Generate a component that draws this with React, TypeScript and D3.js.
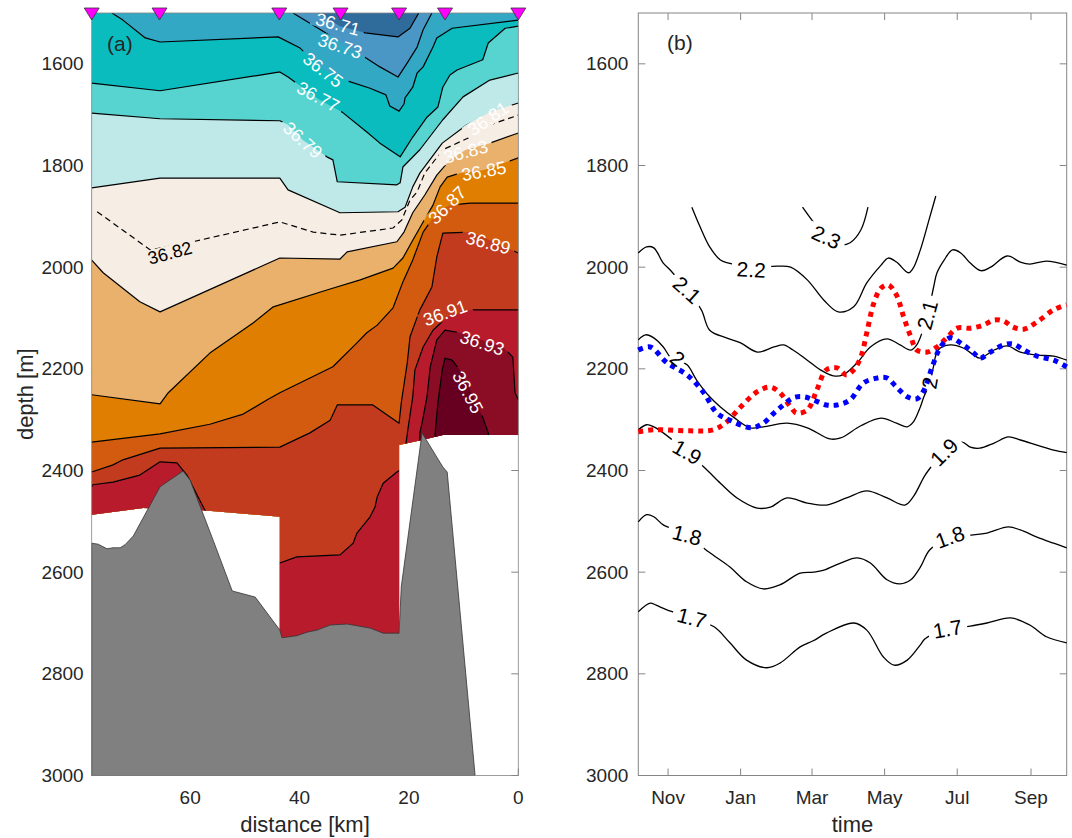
import React from 'react'
import * as d3 from 'd3'

const W = 1072
const H = 838

// shared axes
const depthTicks = [1600, 1800, 2000, 2200, 2400, 2600, 2800, 3000]
const distTicks = [60, 40, 20, 0]
const stations = [78, 65.6, 43.7, 32.5, 21.8, 13.4, 0]
const timeStart = '2015-10-07'
const timeEnd = '2016-10-01'

// panel (a): salinity contours, [distance km, depth m]
const sal3671 = [[36.6, 1500], [32.6, 1526], [28.0, 1539], [22.0, 1547], [19.8, 1530], [18.2, 1500]]
const sal3673 = [[41.2, 1500], [37.5, 1524], [33.1, 1553], [28.6, 1583], [25.3, 1606], [22.0, 1626], [20.3, 1598], [18.5, 1567], [17.4, 1533], [15.8, 1500]]
const sal3675 = [[74.3, 1500], [72.3, 1514], [68.2, 1549], [65.5, 1557], [43.9, 1547], [39.9, 1569], [35.7, 1612], [31.7, 1632], [27.1, 1648], [24.2, 1661], [23.5, 1683], [21.8, 1693], [20.9, 1679], [20.7, 1667], [19.3, 1646], [18.5, 1618], [17.4, 1606], [15.6, 1567], [14.9, 1549], [12.1, 1530], [0, 1514]]
const sal3677 = [[78, 1638], [65.5, 1653], [43.6, 1616], [42.1, 1626], [36.6, 1669], [32.2, 1695], [27.7, 1734], [25.3, 1756], [21.6, 1783], [19.3, 1744], [16.7, 1705], [14.7, 1685], [13.8, 1646], [12.5, 1622], [11.2, 1612], [6.5, 1592], [5.5, 1559], [2.4, 1530], [0, 1526]]
const sal3679 = [[78, 1697], [65.5, 1708], [43.6, 1712], [42.1, 1720], [39.4, 1750], [35.0, 1783], [33.9, 1789], [33.1, 1832], [22.2, 1838], [21.6, 1834], [21.1, 1803], [18.0, 1769], [13.8, 1710], [10.1, 1665], [5.2, 1632], [0, 1618]]
const sal3681 = [[78, 1844], [65.5, 1825], [43.6, 1825], [42.1, 1848], [32.6, 1893], [22.0, 1891], [20.7, 1882], [19.3, 1842], [18.0, 1815], [13.9, 1756], [9.4, 1720], [5.2, 1695], [0, 1677]]
const sal3682 = [[77.0, 1891], [67.3, 1966], [59.5, 1950], [43.6, 1911], [37.5, 1931], [32.6, 1937], [22.9, 1923], [21.3, 1907], [19.8, 1868], [18.5, 1852], [17.1, 1815], [13.8, 1769], [8.8, 1744], [5.2, 1720], [0, 1701]]
const sal3683 = [[78, 1986], [75.9, 2011], [69.2, 2068], [65.5, 2088], [43.6, 1982], [32.6, 1984], [31.3, 1970], [22.2, 1950], [20.9, 1931], [19.3, 1893], [17.1, 1858], [14.9, 1819], [12.5, 1789], [9.6, 1769], [5.2, 1756], [0, 1736]]
const sal3685 = [[78, 2251], [65.5, 2269], [64.0, 2247], [56.4, 2169], [48.5, 2110], [44.8, 2078], [35.0, 2045], [28.9, 2025], [22.9, 2002], [21.1, 1982], [19.3, 1947], [17.4, 1911], [15.6, 1878], [14.3, 1842], [13.0, 1823], [10.7, 1815], [6.3, 1809], [0, 1785]]
const sal3687 = [[78, 2344], [65.5, 2328], [56.4, 2309], [50.3, 2289], [45.9, 2261], [43.6, 2247], [33.9, 2196], [29.5, 2149], [27.7, 2129], [25.8, 2114], [22.9, 2080], [21.1, 2029], [19.3, 1986], [17.4, 1931], [15.6, 1903], [14.3, 1887], [12.5, 1878], [8.8, 1874], [0, 1874]]
const sal3689 = [[78, 2403], [74.1, 2389], [72.3, 2379], [65.5, 2356], [43.6, 2354], [38.1, 2326], [34.4, 2301], [33.1, 2271], [26.6, 2271], [21.8, 2307], [21.4, 2267], [20.3, 2188], [19.8, 2137], [18.0, 2084], [15.8, 2039], [14.9, 1980], [13.8, 1933], [8.8, 1931], [5.2, 1947], [0, 1972]]
const sal3691 = [[78, 2432], [77.8, 2428], [74.1, 2423], [69.2, 2409], [65.5, 2383], [62.4, 2385], [60.6, 2409], [57.3, 2478], [50.9, 2537], [43.6, 2582], [40.5, 2570], [32.6, 2566], [30.2, 2543], [29.5, 2523], [27.1, 2491], [26.2, 2472], [25.8, 2452], [24.7, 2425], [22.2, 2403], [21.6, 2399], [20.7, 2360], [20.2, 2320], [19.3, 2255], [18.9, 2202], [17.4, 2157], [15.6, 2124], [13.0, 2098], [8.8, 2084], [0, 2084]]
const sal3693 = [[18.0, 2360], [18.0, 2326], [17.6, 2307], [16.7, 2255], [16.1, 2196], [14.9, 2143], [13.4, 2124], [10.7, 2129], [2.8, 2157], [1.0, 2177], [0.6, 2247], [0, 2261]]
const sal3695 = [[15.2, 2360], [15.2, 2326], [14.7, 2267], [13.9, 2202], [13.4, 2179], [12.1, 2183], [10.7, 2202], [8.8, 2242], [6.5, 2295], [5.5, 2326], [5.2, 2360]]

// deepest measurement along the section, and the sea floor
const dataFloor = [[78, 2487], [68.6, 2474], [57.8, 2478], [43.6, 2491], [43.6, 2851], [21.8, 2851], [21.8, 2350], [17.6, 2340], [13.8, 2330], [0, 2330]]
const seaFloor = [[78, 2543], [76.8, 2545], [75.2, 2554], [74.1, 2552], [72.8, 2552], [71.9, 2546], [70.4, 2529], [65.5, 2432], [61.3, 2401], [60.0, 2419], [55.8, 2537], [52.3, 2637], [48.1, 2649], [43.6, 2714], [43.2, 2729], [40.5, 2725], [38.6, 2718], [36.8, 2714], [34.4, 2704], [31.3, 2702], [27.1, 2710], [24.7, 2720], [21.8, 2720], [21.4, 2629], [17.6, 2326], [13.8, 2393], [13.0, 2403], [7.9, 3000]]

const salLabels = [
  { text: '36.71', km: 33.0, depth: 1522, angle: 15 },
  { text: '36.73', km: 32.6, depth: 1565, angle: 18 },
  { text: '36.75', km: 35.7, depth: 1612, angle: 38 },
  { text: '36.77', km: 36.6, depth: 1665, angle: 28 },
  { text: '36.79', km: 39.4, depth: 1750, angle: 42 },
  { text: '36.81', km: 5.5, depth: 1708, angle: -35 },
  { text: '36.83', km: 9.6, depth: 1773, angle: -15 },
  { text: '36.85', km: 6.3, depth: 1811, angle: -10 },
  { text: '36.87', km: 13.0, depth: 1878, angle: -45 },
  { text: '36.89', km: 5.5, depth: 1952, angle: 15 },
  { text: '36.91', km: 13.4, depth: 2090, angle: -20 },
  { text: '36.93', km: 6.6, depth: 2149, angle: 18 },
  { text: '36.95', km: 9.2, depth: 2246, angle: 62 },
  { text: '36.82', km: 63.7, depth: 1972, angle: -15, dark: true },
]

// panel (b): isotherms and the two tracked depths, [date, depth m]
const iso23 = [['2016-02-22', 1882], ['2016-03-02', 1911], ['2016-03-13', 1943], ['2016-03-25', 1956], ['2016-04-02', 1952], ['2016-04-11', 1927], ['2016-04-17', 1882]]
const iso22 = [['2015-11-21', 1882], ['2015-11-28', 1921], ['2015-12-06', 1960], ['2015-12-15', 1986], ['2015-12-22', 1992], ['2016-01-10', 2000], ['2016-02-01', 1998], ['2016-02-12', 2000], ['2016-02-26', 2025], ['2016-03-11', 2065], ['2016-03-23', 2088], ['2016-04-05', 2078], ['2016-04-16', 2031], ['2016-04-28', 1996], ['2016-05-04', 1982], ['2016-05-11', 1990], ['2016-05-21', 2011], ['2016-05-25', 2002], ['2016-05-31', 1966], ['2016-06-08', 1901], ['2016-06-13', 1860]]
const iso21 = [['2015-10-07', 1972], ['2015-10-14', 1960], ['2015-10-20', 1962], ['2015-10-28', 1992], ['2015-11-03', 2006], ['2015-11-17', 2045], ['2015-11-29', 2084], ['2015-12-06', 2124], ['2015-12-20', 2139], ['2016-01-01', 2149], ['2016-01-15', 2167], ['2016-01-29', 2157], ['2016-02-06', 2153], ['2016-02-14', 2163], ['2016-02-26', 2183], ['2016-03-08', 2202], ['2016-03-19', 2214], ['2016-03-27', 2212], ['2016-04-08', 2188], ['2016-04-19', 2157], ['2016-05-03', 2141], ['2016-05-14', 2153], ['2016-05-23', 2163], ['2016-05-28', 2153], ['2016-06-06', 2094], ['2016-06-11', 2041], ['2016-06-14', 2011], ['2016-06-20', 1986], ['2016-06-27', 1966], ['2016-07-04', 1972], ['2016-07-12', 1992], ['2016-07-21', 2007], ['2016-07-29', 2000], ['2016-08-12', 1978], ['2016-08-23', 1990], ['2016-08-31', 1994], ['2016-09-14', 1988], ['2016-10-01', 1996]]
const iso20 = [['2015-10-07', 2143], ['2015-10-13', 2133], ['2015-10-20', 2139], ['2015-10-28', 2157], ['2015-11-03', 2177], ['2015-11-09', 2183], ['2015-11-17', 2192], ['2015-11-25', 2222], ['2015-12-06', 2255], ['2015-12-15', 2275], ['2015-12-26', 2295], ['2016-01-09', 2316], ['2016-01-20', 2314], ['2016-02-09', 2307], ['2016-02-26', 2316], ['2016-03-16', 2338], ['2016-03-25', 2336], ['2016-04-11', 2312], ['2016-04-28', 2297], ['2016-05-11', 2307], ['2016-05-20', 2314], ['2016-05-25', 2305], ['2016-05-31', 2275], ['2016-06-03', 2255], ['2016-06-08', 2228], ['2016-06-11', 2196], ['2016-06-15', 2163], ['2016-06-25', 2153], ['2016-07-06', 2159], ['2016-07-15', 2173], ['2016-07-20', 2179], ['2016-08-01', 2163], ['2016-08-12', 2155], ['2016-08-23', 2167], ['2016-09-06', 2173], ['2016-09-20', 2175], ['2016-10-01', 2183]]
const iso19 = [['2015-10-07', 2320], ['2015-10-14', 2310], ['2015-10-20', 2314], ['2015-10-28', 2326], ['2015-11-17', 2364], ['2015-12-02', 2395], ['2015-12-15', 2425], ['2015-12-29', 2454], ['2016-01-15', 2474], ['2016-01-26', 2472], ['2016-02-09', 2454], ['2016-02-26', 2464], ['2016-03-13', 2468], ['2016-03-30', 2454], ['2016-04-16', 2440], ['2016-05-03', 2454], ['2016-05-18', 2468], ['2016-05-25', 2452], ['2016-06-03', 2413], ['2016-06-07', 2399], ['2016-06-20', 2364], ['2016-07-05', 2344], ['2016-07-12', 2354], ['2016-07-20', 2356], ['2016-08-01', 2346], ['2016-08-13', 2334], ['2016-08-23', 2340], ['2016-09-06', 2350], ['2016-09-20', 2360], ['2016-10-01', 2365]]
const iso18 = [['2015-10-07', 2501], ['2015-10-14', 2487], ['2015-10-20', 2491], ['2015-10-28', 2507], ['2015-11-17', 2527], ['2015-12-05', 2560], ['2015-12-23', 2590], ['2016-01-06', 2619], ['2016-01-20', 2633], ['2016-02-03', 2625], ['2016-02-20', 2602], ['2016-03-02', 2600], ['2016-03-11', 2596], ['2016-03-25', 2582], ['2016-04-08', 2572], ['2016-04-19', 2582], ['2016-05-03', 2615], ['2016-05-14', 2623], ['2016-05-23', 2615], ['2016-05-31', 2590], ['2016-06-08', 2556], ['2016-06-25', 2531], ['2016-07-13', 2527], ['2016-07-26', 2523], ['2016-08-13', 2511], ['2016-08-23', 2517], ['2016-09-06', 2531], ['2016-09-20', 2543], ['2016-10-01', 2552]]
const iso17 = [['2015-10-07', 2678], ['2015-10-17', 2661], ['2015-10-22', 2665], ['2015-10-31', 2674], ['2015-11-21', 2690], ['2015-12-10', 2708], ['2015-12-23', 2739], ['2016-01-06', 2773], ['2016-01-23', 2788], ['2016-02-03', 2779], ['2016-02-20', 2747], ['2016-03-02', 2735], ['2016-03-13', 2720], ['2016-04-05', 2700], ['2016-04-16', 2714], ['2016-04-30', 2767], ['2016-05-09', 2783], ['2016-05-20', 2773], ['2016-05-31', 2743], ['2016-06-04', 2731], ['2016-06-23', 2712], ['2016-07-12', 2706], ['2016-07-26', 2700], ['2016-08-15', 2690], ['2016-08-31', 2704], ['2016-09-14', 2727], ['2016-10-01', 2739]]
const redDepth = [['2015-10-07', 2324], ['2015-10-20', 2320], ['2015-11-19', 2322], ['2015-12-09', 2320], ['2015-12-20', 2305], ['2016-01-01', 2275], ['2016-01-15', 2245], ['2016-01-26', 2236], ['2016-02-03', 2247], ['2016-02-12', 2275], ['2016-02-17', 2287], ['2016-02-26', 2281], ['2016-03-05', 2242], ['2016-03-13', 2202], ['2016-03-22', 2198], ['2016-03-30', 2212], ['2016-04-05', 2202], ['2016-04-11', 2177], ['2016-04-16', 2129], ['2016-04-22', 2070], ['2016-04-28', 2041], ['2016-05-04', 2035], ['2016-05-11', 2055], ['2016-05-17', 2098], ['2016-05-23', 2137], ['2016-05-28', 2163], ['2016-06-06', 2167], ['2016-06-14', 2157], ['2016-06-23', 2137], ['2016-07-01', 2120], ['2016-07-12', 2120], ['2016-07-23', 2114], ['2016-08-01', 2104], ['2016-08-09', 2106], ['2016-08-17', 2118], ['2016-08-26', 2122], ['2016-09-06', 2108], ['2016-09-20', 2084], ['2016-10-01', 2074]]
const blueDepth = [['2015-10-07', 2163], ['2015-10-17', 2157], ['2015-10-31', 2188], ['2015-11-17', 2212], ['2015-12-01', 2247], ['2015-12-12', 2287], ['2015-12-23', 2301], ['2016-01-10', 2316], ['2016-01-20', 2307], ['2016-01-29', 2287], ['2016-02-06', 2271], ['2016-02-14', 2257], ['2016-02-23', 2255], ['2016-03-02', 2261], ['2016-03-13', 2271], ['2016-03-22', 2271], ['2016-04-02', 2261], ['2016-04-13', 2228], ['2016-04-25', 2218], ['2016-05-03', 2218], ['2016-05-11', 2236], ['2016-05-20', 2255], ['2016-05-28', 2259], ['2016-06-03', 2242], ['2016-06-10', 2196], ['2016-06-17', 2157], ['2016-06-25', 2139], ['2016-07-06', 2153], ['2016-07-15', 2169], ['2016-07-20', 2179], ['2016-07-29', 2167], ['2016-08-09', 2153], ['2016-08-17', 2151], ['2016-08-26', 2163], ['2016-09-06', 2175], ['2016-09-20', 2183], ['2016-10-01', 2196]]

const tempLabels = [
  { text: '2.3', date: '2016-03-13', depth: 1941, angle: 25 },
  { text: '2.2', date: '2016-01-10', depth: 2005, angle: 3 },
  { text: '2.1', date: '2015-11-17', depth: 2045, angle: 42 },
  { text: '2.1', date: '2016-06-06', depth: 2094, angle: -75 },
  { text: '2', date: '2015-11-09', depth: 2180, angle: 40 },
  { text: '2', date: '2016-06-08', depth: 2228, angle: -80 },
  { text: '1.9', date: '2015-11-17', depth: 2364, angle: 30 },
  { text: '1.9', date: '2016-06-20', depth: 2364, angle: -45 },
  { text: '1.8', date: '2015-11-17', depth: 2527, angle: 15 },
  { text: '1.8', date: '2016-06-25', depth: 2531, angle: -20 },
  { text: '1.7', date: '2015-11-21', depth: 2690, angle: 15 },
  { text: '1.7', date: '2016-06-23', depth: 2712, angle: -10 },
]

const FONT = '"Liberation Sans", Arial, Helvetica, sans-serif'
const AXIS = '#858585'
const TEXT = '#262626'

const App = () => {
  const parse = d3.timeParse('%Y-%m-%d')
  const y = d3.scaleLinear().domain([1500, 3000]).range([13, 775.5])
  const xA = d3.scaleLinear().domain([78, 0]).range([91.7, 518.3])
  const xB = d3.scaleTime().domain([parse(timeStart), parse(timeEnd)]).range([638.3, 1066.7])

  const [dLeft, dRight] = xA.domain()
  const [dTop, dBottom] = y.domain()

  const lineA = d3.line().x(d => xA(d[0])).y(d => y(d[1]))
  const lineB = d3.line()
    .x(d => xB(parse(d[0])))
    .y(d => y(d[1]))
    .curve(d3.curveCatmullRom.alpha(0.5))

  const salContours = [
    { pts: sal3673, kind: 'closed', fill: '#4a97c6' },
    { pts: sal3671, kind: 'closed', fill: '#2f6c9c' },
    { pts: sal3675, kind: 'below', fill: '#0bbcbf' },
    { pts: sal3677, kind: 'below', fill: '#57d3d0' },
    { pts: sal3679, kind: 'below', fill: '#bfe9e9' },
    { pts: sal3681, kind: 'below', fill: '#f6ede4' },
    { pts: sal3683, kind: 'below', fill: '#e9b16c' },
    { pts: sal3685, kind: 'below', fill: '#df7e00' },
    { pts: sal3687, kind: 'below', fill: '#d25b10' },
    { pts: sal3689, kind: 'below', fill: '#c23b1e' },
    { pts: sal3691, kind: 'below', fill: '#b81c2c' },
    { pts: sal3693, kind: 'closed', fill: '#8b0d25', close: [[dRight, 2360]] },
    { pts: sal3695, kind: 'closed', fill: '#670020' },
  ]
  const fillPts = c => c.kind === 'below'
    ? [...c.pts, [dRight, dBottom], [dLeft, dBottom], [dLeft, dTop]]
    : [...c.pts, ...(c.close || [])]

  const isotherms = [iso23, iso22, iso21, iso20, iso19, iso18, iso17]
  const months = xB.ticks(d3.timeMonth.every(2))
  const fmtMonth = d3.timeFormat('%b')

  const fsA = 18
  const fsB = 21

  const gapRect = (cx, cy, text, fs, angle, key) => {
    const w = text.length * 0.56 * fs + 4
    const h = fs * 0.85
    return (
      <rect key={key} x={-w / 2} y={-h / 2} width={w} height={h} fill="black"
        transform={`translate(${cx},${cy}) rotate(${angle})`} />
    )
  }

  const coverage = [...dataFloor, [dRight, dTop], [dLeft, dTop]]

  const yAxis = (x0, x1, gap) => (
    <g>
      {depthTicks.map(t => (
        <g key={t}>
          <line x1={x0} x2={x0 + 7} y1={y(t)} y2={y(t)} stroke={AXIS} />
          <line x1={x1} x2={x1 - 7} y1={y(t)} y2={y(t)} stroke={AXIS} />
          <text x={x0 - gap} y={y(t)} dy="0.35em" textAnchor="end" fontSize={19} fill={TEXT}>{t}</text>
        </g>
      ))}
    </g>
  )

  return (
    <svg width={W} height={H} style={{ position: 'absolute', left: 0, top: 0, background: '#fff' }} fontFamily={FONT}>
      <defs>
        <clipPath id="dataClip">
          <path d={lineA(coverage) + 'Z'} />
        </clipPath>
        <mask id="gapA" maskUnits="userSpaceOnUse" x={0} y={0} width={W} height={H}>
          <rect x={0} y={0} width={W} height={H} fill="white" />
          {salLabels.map((l, i) => gapRect(xA(l.km), y(l.depth), l.text, fsA, l.angle, i))}
        </mask>
        <mask id="gapB" maskUnits="userSpaceOnUse" x={0} y={0} width={W} height={H}>
          <rect x={0} y={0} width={W} height={H} fill="white" />
          {tempLabels.map((l, i) => gapRect(xB(parse(l.date)), y(l.depth), l.text, fsB, l.angle, i))}
        </mask>
      </defs>

      {/* ---------- panel (a) ---------- */}
      <g>
        {yAxis(xA.range()[0], xA.range()[1], 8)}
        {distTicks.map(t => (
          <g key={t}>
            <line x1={xA(t)} x2={xA(t)} y1={y(dBottom)} y2={y(dBottom) - 7} stroke={AXIS} />
            <text x={xA(t)} y={804} textAnchor="middle" fontSize={19} fill={TEXT}>{t}</text>
          </g>
        ))}
        <g clipPath="url(#dataClip)">
          <rect x={xA(dLeft)} y={y(dTop)} width={xA(dRight) - xA(dLeft)} height={y(dBottom) - y(dTop)} fill="#32a8c5" />
          {salContours.map((c, i) => (
            <path key={i} d={lineA(fillPts(c)) + 'Z'} fill={c.fill} stroke="none" />
          ))}
          <g mask="url(#gapA)">
            {salContours.map((c, i) => (
              <path key={i} d={lineA(c.pts)} fill="none" stroke="#000" strokeWidth={1.2} strokeLinejoin="round" />
            ))}
            <path d={lineA(sal3682)} fill="none" stroke="#000" strokeWidth={1.2} strokeDasharray="6 4" />
          </g>
        </g>
        <path d={lineA([...seaFloor, [dLeft, dBottom]]) + 'Z'} fill="#808080" stroke="#333" strokeWidth={0.8} />
        {salLabels.map((l, i) => (
          <text key={i} x={xA(l.km)} y={y(l.depth)} dy="0.35em" textAnchor="middle" fontSize={fsA}
            fill={l.dark ? '#000' : '#fff'} transform={`rotate(${l.angle},${xA(l.km)},${y(l.depth)})`}>{l.text}</text>
        ))}
        <rect x={xA(dLeft)} y={y(dTop)} width={xA(dRight) - xA(dLeft)} height={y(dBottom) - y(dTop)} fill="none" stroke={AXIS} strokeWidth={0.8} />
        {stations.map(s => (
          <path key={s} d={`M${xA(s) - 7.5},${y(dTop) - 5}L${xA(s) + 7.5},${y(dTop) - 5}L${xA(s)},${y(dTop) + 7}Z`}
            fill="#ff00ff" stroke="#333" strokeWidth={0.8} />
        ))}
        <text x={107} y={51} fontSize={21} fill={TEXT}>(a)</text>
        <text x={(xA.range()[0] + xA.range()[1]) / 2} y={832} textAnchor="middle" fontSize={22} fill={TEXT}>distance [km]</text>
        <text transform={`translate(33,${(y.range()[0] + y.range()[1]) / 2}) rotate(-90)`} textAnchor="middle" fontSize={22} fill={TEXT}>depth [m]</text>
      </g>

      {/* ---------- panel (b) ---------- */}
      <g>
        {yAxis(xB.range()[0], xB.range()[1], 10)}
        {months.map(m => (
          <g key={+m}>
            <line x1={xB(m)} x2={xB(m)} y1={y(dBottom)} y2={y(dBottom) - 7} stroke={AXIS} />
            <line x1={xB(m)} x2={xB(m)} y1={y(dTop)} y2={y(dTop) + 7} stroke={AXIS} />
            <text x={xB(m)} y={804} textAnchor="middle" fontSize={19} fill={TEXT}>{fmtMonth(m)}</text>
          </g>
        ))}
        <rect x={xB.range()[0]} y={y(dTop)} width={xB.range()[1] - xB.range()[0]} height={y(dBottom) - y(dTop)} fill="none" stroke={AXIS} strokeWidth={1} />
        <g mask="url(#gapB)">
          {isotherms.map((c, i) => (
            <path key={i} d={lineB(c)} fill="none" stroke="#000" strokeWidth={1.3} />
          ))}
        </g>
        <path d={lineB(redDepth)} fill="none" stroke="#ff0000" strokeWidth={5} strokeDasharray="5 5" />
        <path d={lineB(blueDepth)} fill="none" stroke="#0000ff" strokeWidth={5} strokeDasharray="5 5" />
        {tempLabels.map((l, i) => (
          <text key={i} x={xB(parse(l.date))} y={y(l.depth)} dy="0.35em" textAnchor="middle" fontSize={fsB} fill="#000"
            transform={`rotate(${l.angle},${xB(parse(l.date))},${y(l.depth)})`}>{l.text}</text>
        ))}
        <text x={667} y={50} fontSize={21} fill={TEXT}>(b)</text>
        <text x={(xB.range()[0] + xB.range()[1]) / 2} y={832} textAnchor="middle" fontSize={22} fill={TEXT}>time</text>
      </g>
    </svg>
  )
}

export default App
